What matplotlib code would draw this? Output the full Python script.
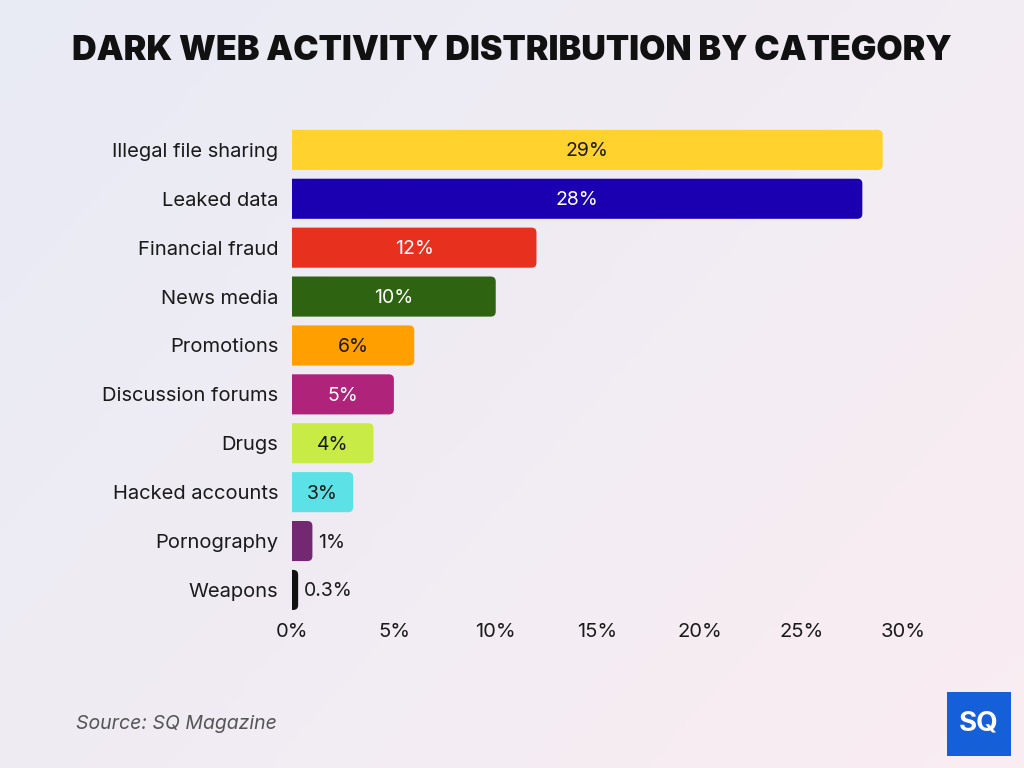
import matplotlib.pyplot as plt
from matplotlib.patches import FancyBboxPatch, Rectangle
import numpy as np

categories = ['Illegal file sharing', 'Leaked data', 'Financial fraud', 'News media',
              'Promotions', 'Discussion forums', 'Drugs', 'Hacked accounts',
              'Pornography', 'Weapons']
values = [29, 28, 12, 10, 6, 5, 4, 3, 1, 0.3]
labels = ['29%', '28%', '12%', '10%', '6%', '5%', '4%', '3%', '1%', '0.3%']
colors = ['#FFD22E', '#1A00B0', '#E8301F', '#2E6411', '#FFA000',
          '#B0237A', '#C8EC45', '#5CE1E6', '#732872', '#111111']
text_colors = ['#1a1a1a', 'white', 'white', 'white', '#1a1a1a',
               'white', '#1a1a1a', '#1a1a1a', '#1a1a1a', '#1a1a1a']
xticks = [0, 5, 10, 15, 20, 25, 30]

plt.rcParams['font.family'] = ['Inter', 'DejaVu Sans']

fig = plt.figure(figsize=(10.24, 7.68), dpi=100)

# soft gradient background
bg = fig.add_axes([0, 0, 1, 1], zorder=-10)
gx, gy = np.meshgrid(np.linspace(0, 1, 200), np.linspace(0, 1, 150))
c1 = np.array([0.91, 0.92, 0.96])
c2 = np.array([0.98, 0.93, 0.95])
t = np.clip(0.6 * gx + 0.4 * gy, 0, 1)[..., None]
bg.imshow(c1 * (1 - t) + c2 * t, aspect='auto', extent=[0, 1, 0, 1])
bg.axis('off')

ax = fig.add_axes([0.2852, 0.2, 0.5967, 0.6367])
ax.set_facecolor('none')

bar_h = 0.82
for i, v in enumerate(values):
    box = FancyBboxPatch((-0.3, i - bar_h / 2), v + 0.3, bar_h,
                         boxstyle='round,pad=0,rounding_size=0.25',
                         mutation_aspect=0.4, facecolor=colors[i],
                         edgecolor='none')
    ax.add_patch(box)
    if v >= 3:
        ax.text(v / 2, i + 0.03, labels[i], ha='center', va='center',
                fontsize=14, color=text_colors[i])
    else:
        ax.text(v + 0.3, i + 0.03, labels[i], ha='left', va='center',
                fontsize=14, color=text_colors[i])

ax.set_xlim(0, 30)
ax.set_ylim(9.5, -0.5)
ax.set_yticks(range(len(categories)))
ax.set_yticklabels(categories, fontsize=14.5, color='#1a1a1a')
ax.set_xticks(xticks)
ax.set_xticklabels([f'{x}%' for x in xticks], fontsize=14.5, color='#1a1a1a')
ax.tick_params(axis='x', length=0, pad=6)
ax.tick_params(axis='y', length=0, pad=10)
for s in ax.spines.values():
    s.set_visible(False)

fig.text(0.5, 0.934, 'DARK WEB ACTIVITY DISTRIBUTION BY CATEGORY', ha='center',
         va='center', fontsize=24.5, fontweight='black', color='#111111')

fig.text(0.074, 0.057, 'Source: SQ Magazine', fontsize=14, style='italic',
         color='#555555', va='center')

# logo
fig.patches.append(Rectangle((947 / 1024, 12 / 768), 64 / 1024, 64 / 768,
                             transform=fig.transFigure, facecolor='#1560D8',
                             edgecolor='none'))
fig.text(979 / 1024, 44 / 768, 'SQ', ha='center', va='center', fontsize=20,
         fontweight='bold', color='white')

fig.savefig('out.png', dpi=100)
